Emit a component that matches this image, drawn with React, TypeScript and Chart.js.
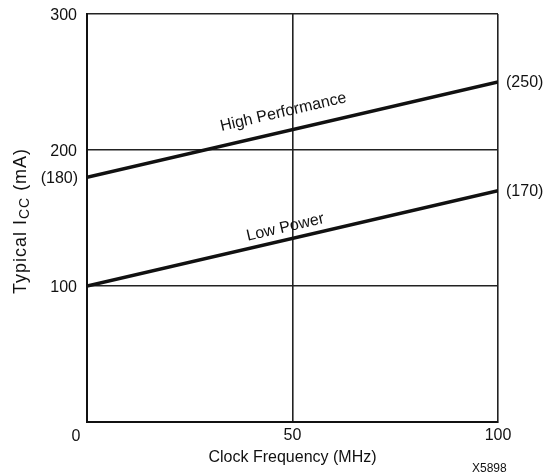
import React, { useEffect, useRef } from 'react';
import { Chart, registerables } from 'chart.js';

Chart.register(...registerables);

// ---- data ----
const frequencies = [0, 100];
const highPerformance = [180, 250];
const lowPower = [100, 170];
const seriesNames = ['High Performance', 'Low Power'];
const xTickValues = [0, 50, 100];
const yTickValues = [0, 100, 200, 300];
const xTitle = 'Clock Frequency (MHz)';
const yTitleMain = 'Typical I';
const yTitleSub = 'CC';
const yTitleTail = ' (mA)';
const figureId = 'X5898';

const FONT = '"Liberation Sans", Arial, Helvetica, sans-serif';
const INK = '#111111';

// label placement per series (styling, not data)
const labelStyle = [
  { at: 48, lift: 15, showStart: true },
  { at: 48.5, lift: 8, showStart: false },
];

const annotate = {
  id: 'annotate',
  afterDatasetsDraw(chart: any) {
    const { ctx, chartArea, scales } = chart;
    const xs = scales.x;
    const ys = scales.y;
    ctx.save();
    ctx.fillStyle = INK;

    chart.data.datasets.forEach((ds: any, i: number) => {
      const cfg = labelStyle[i];
      const d0 = ds.data[0];
      const d1 = ds.data[ds.data.length - 1];
      const p0 = { x: xs.getPixelForValue(d0.x), y: ys.getPixelForValue(d0.y) };
      const p1 = { x: xs.getPixelForValue(d1.x), y: ys.getPixelForValue(d1.y) };
      const angle = Math.atan2(p1.y - p0.y, p1.x - p0.x);
      const t = (cfg.at - d0.x) / (d1.x - d0.x);
      const px = p0.x + (p1.x - p0.x) * t;
      const py = p0.y + (p1.y - p0.y) * t - cfg.lift;

      ctx.save();
      ctx.translate(px, py);
      ctx.rotate(angle);
      ctx.font = `16px ${FONT}`;
      ctx.textAlign = 'center';
      ctx.textBaseline = 'alphabetic';
      ctx.fillText(ds.label, 0, 0);
      ctx.restore();

      ctx.font = `16px ${FONT}`;
      ctx.textBaseline = 'middle';
      ctx.textAlign = 'left';
      ctx.fillText(`(${d1.y})`, chartArea.right + 8, p1.y + 1);
      if (cfg.showStart) {
        ctx.textAlign = 'right';
        ctx.fillText(`(${d0.y})`, chartArea.left - 9, p0.y + 1);
      }
    });

    // corner zero label
    ctx.font = `16px ${FONT}`;
    ctx.textAlign = 'center';
    ctx.textBaseline = 'middle';
    ctx.fillText('0', xs.getPixelForValue(0) - 11, chartArea.bottom + 15);

    // y title with subscript
    ctx.save();
    const big = `18px ${FONT}`;
    const small = `14px ${FONT}`;
    try { (ctx as any).letterSpacing = '1px'; } catch (e) {}
    ctx.font = big;
    const w1 = ctx.measureText(yTitleMain).width;
    const w3 = ctx.measureText(yTitleTail).width;
    ctx.font = small;
    const w2 = ctx.measureText(yTitleSub).width;
    const total = w1 + w2 + w3;
    ctx.translate(26, (chartArea.top + chartArea.bottom) / 2 + 3);
    ctx.rotate(-Math.PI / 2);
    ctx.textAlign = 'left';
    ctx.textBaseline = 'alphabetic';
    let u = -total / 2;
    ctx.font = big;
    ctx.fillText(yTitleMain, u, 0);
    u += w1;
    ctx.font = small;
    ctx.fillText(yTitleSub, u, 3);
    u += w2;
    ctx.font = big;
    ctx.fillText(yTitleTail, u, 0);
    try { (ctx as any).letterSpacing = '0px'; } catch (e) {}
    ctx.restore();

    // figure id
    ctx.font = `12px ${FONT}`;
    ctx.textAlign = 'left';
    ctx.textBaseline = 'alphabetic';
    ctx.fillText(figureId, chartArea.right - 26, chart.height - 3);

    ctx.restore();
  },
};

export default function App() {
  const canvasRef = useRef<HTMLCanvasElement | null>(null);

  useEffect(() => {
    const canvas = canvasRef.current;
    if (!canvas) return;
    const toPoints = (ys: number[]) => frequencies.map((x, i) => ({ x, y: ys[i] }));
    const chart = new Chart(canvas, {
      type: 'line',
      data: {
        datasets: [
          {
            label: seriesNames[0],
            data: toPoints(highPerformance),
            borderColor: INK,
            borderWidth: 3.5,
            pointRadius: 0,
            fill: false,
            tension: 0,
          },
          {
            label: seriesNames[1],
            data: toPoints(lowPower),
            borderColor: INK,
            borderWidth: 3.5,
            pointRadius: 0,
            fill: false,
            tension: 0,
          },
        ],
      },
      options: {
        responsive: false,
        animation: false,
        events: [],
        layout: { padding: { left: 0, right: 55, top: 14, bottom: 0 } },
        plugins: {
          legend: { display: false },
          tooltip: { enabled: false },
          title: { display: false },
        },
        scales: {
          x: {
            type: 'linear',
            min: 0,
            max: 100,
            afterBuildTicks: (s: any) => {
              s.ticks = xTickValues.map((v) => ({ value: v }));
            },
            afterFit: (s: any) => {
              s.height = 53;
              s.paddingLeft = 0;
              s.paddingRight = 0;
              s.paddingTop = 0;
              s.paddingBottom = 0;
            },
            grid: { color: '#222222', lineWidth: 1.6, drawTicks: false },
            border: { display: true, color: INK, width: 2 },
            ticks: {
              color: INK,
              font: { family: FONT, size: 16 },
              padding: 4,
              maxRotation: 0,
              callback: (v: any) => (v === 0 ? '' : String(v)),
            },
            title: {
              display: true,
              text: xTitle,
              color: INK,
              font: { family: FONT, size: 16 },
              padding: { top: 0, bottom: 8 },
            },
          },
          y: {
            type: 'linear',
            min: 0,
            max: 300,
            afterBuildTicks: (s: any) => {
              s.ticks = yTickValues.map((v) => ({ value: v }));
            },
            afterFit: (s: any) => {
              s.width = 87;
              s.paddingLeft = 0;
              s.paddingRight = 0;
              s.paddingTop = 0;
              s.paddingBottom = 0;
            },
            grid: { color: '#222222', lineWidth: 1.6, drawTicks: false },
            border: { display: true, color: INK, width: 2 },
            ticks: {
              color: INK,
              font: { family: FONT, size: 16 },
              padding: 10,
              labelOffset: 2,
              callback: (v: any) => (v === 0 ? '' : String(v)),
            },
          },
        },
      },
      plugins: [annotate],
    });
    return () => chart.destroy();
  }, []);

  return (
    <div style={{ position: 'fixed', left: 0, top: 0, width: 553, height: 475, background: '#ffffff' }}>
      <canvas ref={canvasRef} width={553} height={475} />
    </div>
  );
}
